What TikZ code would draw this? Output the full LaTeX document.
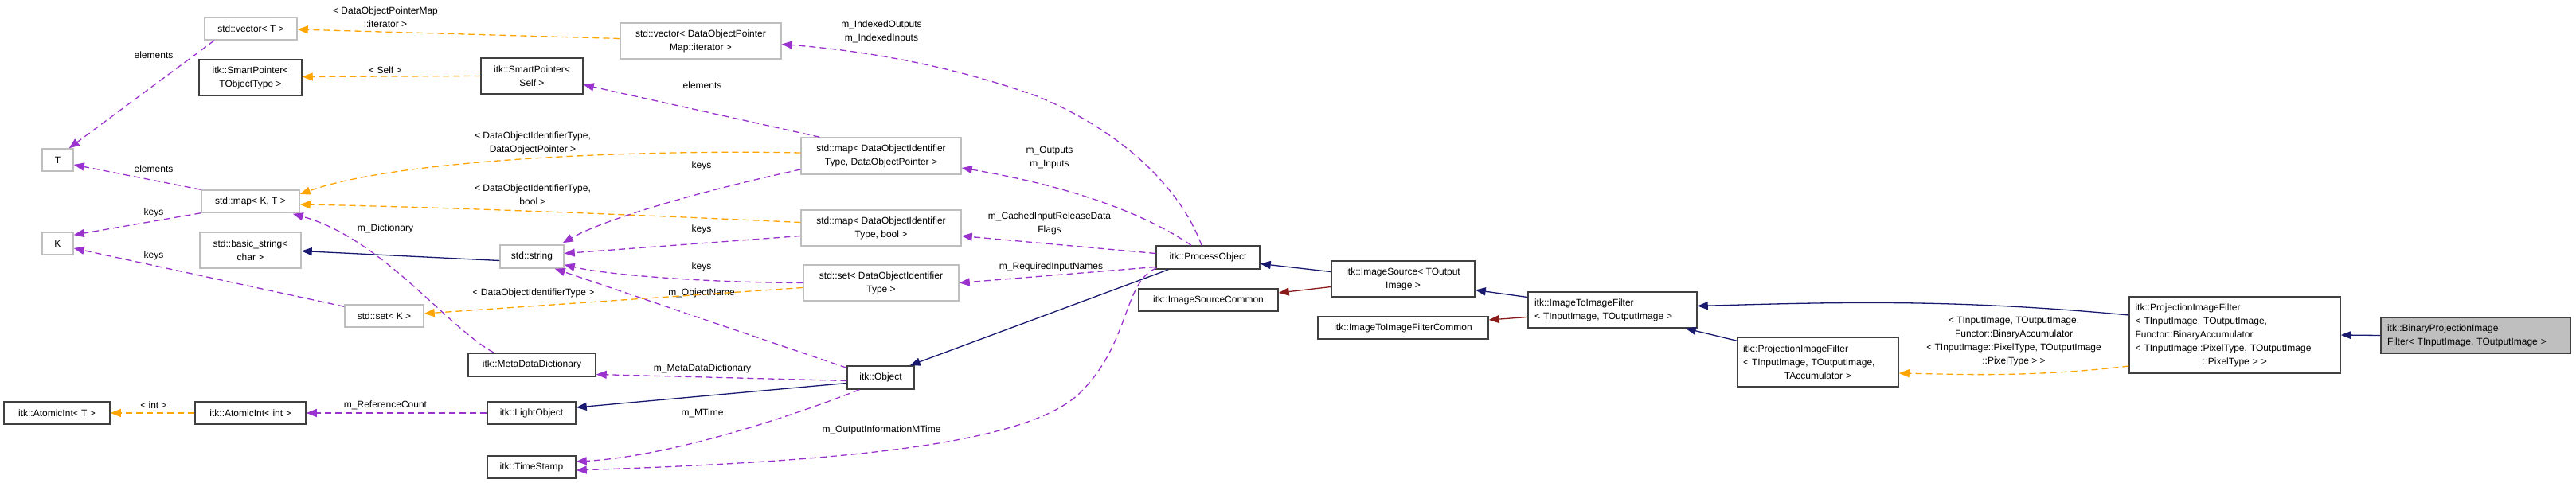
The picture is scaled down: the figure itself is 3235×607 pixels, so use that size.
\documentclass[tikz,border=0pt]{standalone}
\usepackage{fontspec}
\setmainfont{Liberation Sans}
\usetikzlibrary{arrows.meta,calc}
\definecolor{pur}{HTML}{9A32CD}
\definecolor{org}{HTML}{FFA500}
\definecolor{nav}{HTML}{191970}
\definecolor{drd}{HTML}{8B1A1A}
\definecolor{gbd}{HTML}{BFBFBF}
\definecolor{kbd}{HTML}{404040}
\begin{document}
\begin{tikzpicture}[x=1pt,y=-1pt,
  every node/.style={font=\fontsize{12}{17}\selectfont, inner sep=0pt},
  bx/.style={draw=kbd, line width=1.5pt, align=center},
  sbx/.style={draw=gbd, line width=1.5pt, align=center},
  lb/.style={align=center},
  tip/.style={-{Triangle[length=13pt,width=10pt]}},
  mem/.style={tip, draw=pur, line width=1.3pt, dash pattern=on 8pt off 5pt},
  tpl/.style={tip, draw=org, line width=1.3pt, dash pattern=on 8pt off 5pt},
  inh/.style={tip, draw=nav, line width=1.3pt},
  prv/.style={tip, draw=drd, line width=1.3pt}]
\useasboundingbox (0,0) rectangle (3235,607);
% boxes
\node[sbx, minimum width=116pt, minimum height=28pt] (vecT) at (315,36) {std::vector< T >};
\node[bx, minimum width=129pt, minimum height=45pt] (spTO) at (314.5,97.5) {itk::SmartPointer<\\TObjectType >};
\node[sbx, minimum width=39pt, minimum height=28pt] (T) at (72.5,201) {T};
\node[sbx, minimum width=123pt, minimum height=28pt] (mapKT) at (314.5,253) {std::map< K, T >};
\node[sbx, minimum width=39pt, minimum height=28pt] (K) at (72.5,306) {K};
\node[sbx, minimum width=127pt, minimum height=45pt] (bstr) at (314.5,314.5) {std::basic\_string<\\char >};
\node[sbx, minimum width=99pt, minimum height=28pt] (setK) at (482.5,397) {std::set< K >};
\node[bx, minimum width=160pt, minimum height=29pt] (mdd) at (668,458.5) {itk::MetaDataDictionary};
\node[bx, minimum width=133pt, minimum height=28pt] (aiT) at (71.5,519) {itk::AtomicInt< T >};
\node[bx, minimum width=139pt, minimum height=28pt] (aiInt) at (314.5,519) {itk::AtomicInt< int >};
\node[bx, minimum width=111pt, minimum height=28pt] (light) at (667.5,519) {itk::LightObject};
\node[bx, minimum width=111pt, minimum height=28pt] (ts) at (667.5,587) {itk::TimeStamp};
\node[sbx, minimum width=80pt, minimum height=29pt] (str) at (668,322.5) {std::string};
\node[bx, minimum width=128pt, minimum height=45pt] (spSelf) at (668,95.5) {itk::SmartPointer<\\Self >};
\node[sbx, minimum width=202pt, minimum height=45pt] (vecD) at (880,51.5) {std::vector< DataObjectPointer\\Map::iterator >};
\node[sbx, minimum width=201pt, minimum height=46pt] (mapDP) at (1106.5,196) {std::map< DataObjectIdentifier\\Type, DataObjectPointer >};
\node[sbx, minimum width=201pt, minimum height=45pt] (mapDB) at (1106.5,286.5) {std::map< DataObjectIdentifier\\Type, bool >};
\node[sbx, minimum width=195pt, minimum height=45pt] (setD) at (1106.5,355.5) {std::set< DataObjectIdentifier\\Type >};
\node[bx, minimum width=84pt, minimum height=29pt] (obj) at (1106,474.5) {itk::Object};
\node[bx, minimum width=130pt, minimum height=29pt] (po) at (1517,323.5) {itk::ProcessObject};
\node[bx, minimum width=175pt, minimum height=28pt] (isc) at (1517.5,377) {itk::ImageSourceCommon};
\node[bx, minimum width=180pt, minimum height=45pt] (is) at (1762,350.5) {itk::ImageSource< TOutput\\Image >};
\node[bx, minimum width=214pt, minimum height=28pt] (itifc) at (1762,412) {itk::ImageToImageFilterCommon};
\node[bx, minimum width=212pt, minimum height=45pt, align=left, text width=196pt] (itif) at (2025,389.5) {itk::ImageToImageFilter\\< TInputImage, TOutputImage >};
\node[bx, minimum width=202pt, minimum height=62pt, align=left, text width=188pt] (pifT) at (2283,455) {itk::ProjectionImageFilter\\< TInputImage, TOutputImage,\\\makebox[188pt]{TAccumulator >}};
\node[bx, minimum width=265pt, minimum height=96pt, align=left, text width=250pt] (pifB) at (2806.5,421) {itk::ProjectionImageFilter\\< TInputImage, TOutputImage,\\ Functor::BinaryAccumulator\\< TInputImage::PixelType, TOutputImage\\\makebox[250pt]{::PixelType > >}};
\node[bx, fill=gbd, minimum width=238pt, minimum height=45pt, align=left, text width=222pt] (bin) at (3109,421.5) {itk::BinaryProjectionImage\\Filter< TInputImage, TOutputImage >};
% labels
\node[lb] (l1) at (484,22) {< DataObjectPointerMap\\::iterator >};
\node[lb] (l2) at (484,88) {< Self >};
\node[lb] (l3) at (193,69) {elements};
\node[lb] (l4) at (193,212) {elements};
\node[lb] (l5) at (193,267) {keys};
\node[lb] (l6) at (193,321) {keys};
\node[lb] (l7) at (484,287) {m\_Dictionary};
\node[lb] (l8) at (669,180) {< DataObjectIdentifierType,\\DataObjectPointer >};
\node[lb] (l9) at (881,208) {keys};
\node[lb] (l10) at (669,245) {< DataObjectIdentifierType,\\bool >};
\node[lb] (l11) at (881,288) {keys};
\node[lb] (l12) at (881,335) {keys};
\node[lb] (l13) at (670,368) {< DataObjectIdentifierType >};
\node[lb] (l14) at (881,368) {m\_ObjectName};
\node[lb] (l15) at (882,463) {m\_MetaDataDictionary};
\node[lb] (l16) at (882,519) {m\_MTime};
\node[lb] (l17) at (484,509) {m\_ReferenceCount};
\node[lb] (l18) at (193,509) {< int >};
\node[lb] (l19) at (882,107) {elements};
\node[lb] (l20) at (1107,40) {m\_IndexedOutputs\\m\_IndexedInputs};
\node[lb] (l21) at (1318,198) {m\_Outputs\\m\_Inputs};
\node[lb] (l22) at (1318,281) {m\_CachedInputReleaseData\\Flags};
\node[lb] (l23) at (1320,335) {m\_RequiredInputNames};
\node[lb] (l24) at (1107,540) {m\_OutputInformationMTime};
\node[lb] (l25) at (2529,429) {< TInputImage, TOutputImage,\\Functor::BinaryAccumulator\\< TInputImage::PixelType, TOutputImage\\::PixelType > >};
% edges
\draw[tpl] ($(vecD.west)+(0,-3)$) -- ($(vecT.east)+(0,1)$);
\draw[tpl] (spSelf.west) -- ($(spTO.east)+(0,-1)$);
\draw[mem] ($(mapDP.north west)+(24,0)$) -- ($(spSelf.east)+(0,11)$);
\draw[mem] ($(vecT.south west)+(13,0)$) -- ($(T.north east)+(-6,0)$);
\draw[mem] (mapKT.north west) -- ($(T.east)+(0,6)$);
\draw[mem] (mapKT.south west) -- ($(K.north east)+(0,4)$);
\draw[mem] ($(setK.north west)+(0,3)$) -- ($(K.east)+(0,6)$);
\draw[tpl] ($(mapDP.west)+(0,-4)$) .. controls (800,188) and (500,200) .. ($(mapKT.east)+(0,-9)$);
\draw[tpl] ($(mapDB.west)+(0,-7)$) .. controls (800,270) and (550,260) .. ($(mapKT.east)+(0,4)$);
\draw[tpl] ($(setD.west)+(0,6)$) -- ($(setK.east)+(0,-3)$);
\draw[inh] ($(str.west)+(0,5)$) -- ($(bstr.east)+(0,1)$);
\draw[mem] ($(mapDP.west)+(0,17)$) .. controls (880,240) and (760,275) .. ($(str.north east)+(-2,-2)$);
\draw[mem] ($(mapDB.west)+(0,10)$) -- ($(str.east)+(0,-4)$);
\draw[mem] ($(setD.west)+(0,0)$) .. controls (880,355) and (760,345) .. ($(str.south east)+(0,-5)$);
\draw[mem] ($(obj.north west)+(0,3)$) -- ($(str.south east)+(-12,0)$);
\draw[mem] ($(mdd.north west)+(33,0)$) .. controls (560,410) and (480,300) .. ($(mapKT.south east)+(-9,1)$);
\draw[mem] ($(obj.west)+(0,4)$) -- ($(mdd.east)+(0,12)$);
\draw[inh] ($(obj.west)+(0,7)$) -- ($(light.east)+(0,-7)$);
\draw[mem] (light.west) -- (aiInt.east);
\draw[tpl] (aiInt.west) -- (aiT.east);
\draw[mem] ($(obj.south west)+(16,0)$) .. controls (950,540) and (820,575) .. ($(ts.east)+(0,-7)$);
\draw[mem] ($(po.south west)+(1,-2)$) .. controls (1410,355) and (1420,430) .. (1357,493) .. controls (1290,560) and (1050,580) .. ($(ts.east)+(0,4)$);
\draw[mem] ($(po.north)+(-8,0)$) .. controls (1480,230) and (1400,160) .. (1300,120) .. controls (1200,85) and (1100,65) .. ($(vecD.east)+(0,4)$);
\draw[mem] ($(po.north)+(-21,0)$) .. controls (1440,270) and (1350,235) .. ($(mapDP.east)+(0,15)$);
\draw[mem] ($(po.west)+(0,-5)$) -- ($(mapDB.east)+(0,10)$);
\draw[mem] ($(po.west)+(0,12)$) -- ($(setD.east)+(0,0)$);
\draw[inh] ($(po.south west)+(16,0)$) -- ($(obj.north east)+(-6,0)$);
\draw[inh] ($(is.west)+(0,-9)$) -- ($(po.east)+(0,8)$);
\draw[prv] ($(is.west)+(0,10)$) -- ($(isc.east)+(0,-9)$);
\draw[inh] ($(itif.west)+(0,-16)$) -- ($(is.east)+(0,14)$);
\draw[prv] ($(itif.west)+(0,9)$) -- ($(itifc.east)+(0,-10)$);
\draw[inh] ($(pifT.north west)+(0,5)$) -- ($(itif.south east)+(-15,0)$);
\draw[inh] ($(pifB.west)+(0,-25)$) .. controls (2450,375) and (2300,380) .. ($(itif.east)+(0,-5)$);
\draw[tpl] ($(pifB.west)+(0,39)$) .. controls (2550,475) and (2450,470) .. ($(pifT.east)+(0,14)$);
\draw[inh] (bin.west) -- (pifB.east);
\end{tikzpicture}
\end{document}
